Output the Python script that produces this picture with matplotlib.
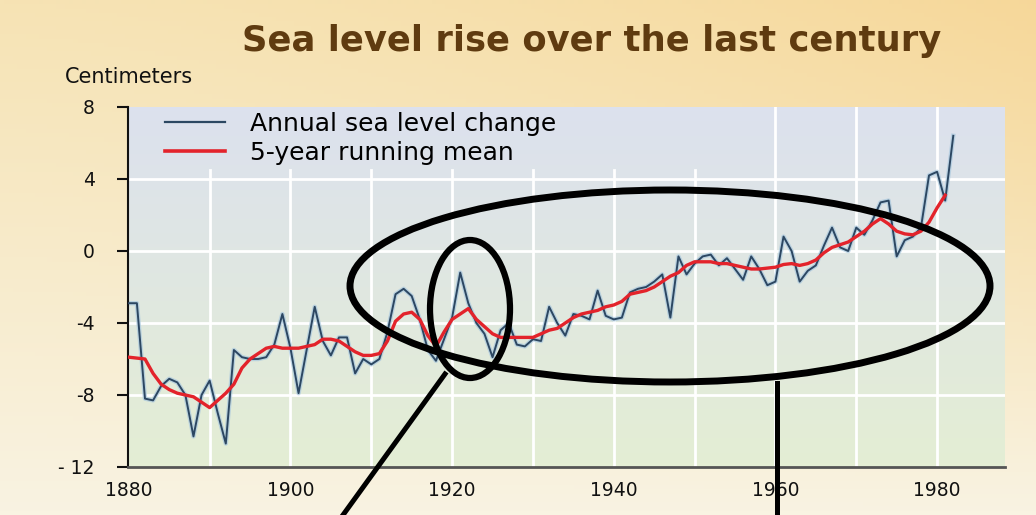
import numpy as np
import matplotlib
matplotlib.use("Agg")
import matplotlib.pyplot as plt
from matplotlib.patches import Ellipse

# ---------------- data ----------------
annual_years = list(range(1880, 1983))
annual_cm = [
    -2.9, -2.9, -8.2, -8.3, -7.5, -7.1, -7.3, -8.0, -10.3, -8.0,   # 1880-1889
    -7.2, -9.0, -10.7, -5.5, -5.9, -6.0, -6.0, -5.9, -5.2, -3.5,   # 1890-1899
    -5.4, -7.9, -5.5, -3.1, -5.0, -5.8, -4.8, -4.8, -6.8, -6.0,    # 1900-1909
    -6.3, -6.0, -4.5, -2.4, -2.1, -2.5, -3.8, -5.5, -6.1, -4.9,    # 1910-1919
    -3.7, -1.2, -2.9, -4.0, -4.6, -5.9, -4.4, -4.0, -5.2, -5.3,    # 1920-1929
    -4.9, -5.0, -3.1, -4.0, -4.7, -3.5, -3.6, -3.8, -2.2, -3.6,    # 1930-1939
    -3.8, -3.7, -2.3, -2.1, -2.0, -1.7, -1.3, -3.7, -0.3, -1.3,    # 1940-1949
    -0.7, -0.3, -0.2, -0.8, -0.4, -1.0, -1.6, -0.3, -1.0, -1.9,    # 1950-1959
    -1.7, 0.8, 0.0, -1.7, -1.1, -0.8, 0.3, 1.3, 0.2, 0.0,          # 1960-1969
    1.3, 0.9, 1.7, 2.7, 2.8, -0.3, 0.6, 0.8, 1.3, 4.2,             # 1970-1979
    4.4, 2.8, 6.4,                                                 # 1980-1982
]

mean_years = list(range(1880, 1982))
mean_cm = [
    -5.9, -5.95, -6.0, -6.8, -7.4, -7.7, -7.9, -8.0, -8.1, -8.4,   # 1880-1889
    -8.7, -8.3, -7.9, -7.4, -6.5, -6.0, -5.7, -5.4, -5.3, -5.4,    # 1890-1899
    -5.4, -5.4, -5.3, -5.2, -4.9, -4.9, -5.0, -5.3, -5.6, -5.8,    # 1900-1909
    -5.8, -5.7, -5.0, -3.9, -3.5, -3.4, -3.8, -4.7, -5.3, -4.5,    # 1910-1919
    -3.8, -3.5, -3.2, -3.8, -4.2, -4.6, -4.8, -4.8, -4.8, -4.8,    # 1920-1929
    -4.8, -4.6, -4.4, -4.3, -4.0, -3.7, -3.5, -3.4, -3.3, -3.1,    # 1930-1939
    -3.0, -2.8, -2.4, -2.3, -2.2, -2.0, -1.7, -1.4, -1.2, -0.8,    # 1940-1949
    -0.6, -0.6, -0.6, -0.7, -0.7, -0.8, -0.9, -1.0, -1.0, -0.95,   # 1950-1959
    -0.9, -0.75, -0.7, -0.8, -0.7, -0.5, -0.1, 0.2, 0.35, 0.5,     # 1960-1969
    0.8, 1.1, 1.5, 1.8, 1.5, 1.1, 0.95, 0.9, 1.1, 1.6,             # 1970-1979
    2.4, 3.1,                                                      # 1980-1981
]

x_tick_years = [1880, 1900, 1920, 1940, 1960, 1980]
x_grid_years = [1890, 1900, 1910, 1920, 1930, 1940, 1950, 1960, 1970, 1980]
y_ticks = [-12, -8, -4, 0, 4, 8]
y_tick_labels = ["- 12", "-8", "-4", "0", "4", "8"]
y_grid = [-8, -4, 0, 4]

title = "Sea level rise over the last century"
unit_label = "Centimeters"
legend_labels = ["Annual sea level change", "5-year running mean"]

# ---------------- figure ----------------
W, H = 1036, 515
fig = plt.figure(figsize=(W / 100, H / 100), dpi=100)

# figure background gradient (cream / light orange)
bg = fig.add_axes([0, 0, 1, 1], zorder=-10)
bg.axis("off")
ny, nx = 120, 240
t = np.linspace(0, 1, ny)[:, None, None]
s = np.linspace(0, 1, nx)[None, :, None]
top_c = np.array([246, 227, 180]) / 255
bot_c = np.array([249, 243, 226]) / 255
orange = np.array([246, 212, 145]) / 255
img = top_c * (1 - t) + bot_c * t
w = (s ** 1.5) * (1 - t) ** 1.3 * 0.75
img = img * (1 - w) + orange * w
bg.imshow(img, extent=[0, 1, 0, 1], aspect="auto", origin="upper")
bg.set_xlim(0, 1)
bg.set_ylim(0, 1)

rect = [128 / W, 48 / H, 877 / W, 360 / H]

# plot-area gradient (blue-grey top -> pale green bottom)
abg = fig.add_axes(rect, zorder=-5)
abg.axis("off")
tt = np.linspace(0, 1, 100)[:, None, None]
a_top = np.array([220, 225, 238]) / 255
a_bot = np.array([228, 238, 212]) / 255
aimg = a_top * (1 - tt) + a_bot * tt
aimg = np.repeat(aimg, 4, axis=1)
abg.imshow(aimg, extent=[0, 1, 0, 1], aspect="auto", origin="upper")
abg.set_xlim(0, 1)
abg.set_ylim(0, 1)

ax = fig.add_axes(rect, zorder=0)
ax.patch.set_alpha(0)
ax.set_xlim(1879.9, 1988.4)
ax.set_ylim(-12, 8)

legend_strip_bottom = 4.5   # vertical grid lines stop below the legend strip
legend_strip_right = 1955
for yv in y_grid:
    ax.axhline(yv, color="white", lw=2, zorder=1)
for xv in x_grid_years:
    top_frac = 1.0 if xv > legend_strip_right else (legend_strip_bottom + 12) / 20
    ax.axvline(xv, ymax=top_frac, color="white", lw=2, zorder=1)

ax.plot(annual_years, annual_cm, color="#a9c8de", lw=3.2, alpha=0.7, zorder=2)
ax.plot(annual_years, annual_cm, color="#2c4762", lw=1.4, zorder=3,
        label=legend_labels[0])
ax.plot(mean_years, mean_cm, color="#e3232b", lw=2.4, zorder=4,
        label=legend_labels[1])

ax.set_xticks(x_tick_years)
ax.set_xticklabels([str(y) for y in x_tick_years])
ax.set_yticks(y_ticks)
ax.set_yticklabels(y_tick_labels)
ax.tick_params(axis="x", length=0, pad=10, labelsize=13.5, colors="#111111")
ax.tick_params(axis="y", length=8, width=1.5, direction="out", pad=16,
               labelsize=13.5, colors="#111111")

for side in ["top", "right"]:
    ax.spines[side].set_visible(False)
ax.spines["left"].set_color("#111111")
ax.spines["left"].set_linewidth(1.5)
ax.spines["bottom"].set_color("#555555")
ax.spines["bottom"].set_linewidth(2)

leg = ax.legend(loc="upper left",
                bbox_to_anchor=((165 - 128) / 877, (467 - 112) / 360),
                borderaxespad=0, borderpad=0, fontsize=18, frameon=False,
                handlelength=2.4, handletextpad=1.0, labelspacing=0.2)
leg.set_zorder(5)
for line in leg.get_lines():
    line.set_linewidth(2.6 if line.get_color() == "#e3232b" else 1.6)

fig.text(592 / W, 1 - 41 / H, title, ha="center", va="center",
         fontsize=25.5, fontweight="bold", color="#5f3b10",
         family="DejaVu Sans")
fig.text(65 / W, 1 - 77 / H, unit_label, ha="left", va="center",
         fontsize=15, color="#111111")

# hand-drawn annotation overlay (ellipses and pointer lines)
ov = fig.add_axes([0, 0, 1, 1], zorder=20)
ov.set_xlim(0, W)
ov.set_ylim(H, 0)
ov.axis("off")
ov.patch.set_alpha(0)
ov.add_patch(Ellipse((670, 286), 640, 192, fill=False, lw=5, ec="black"))
ov.add_patch(Ellipse((470, 309), 80, 138, fill=False, lw=4.5, ec="black"))
ov.plot([445, 343], [374, 515], color="black", lw=3.6)
ov.plot([777, 777], [383, 515], color="black", lw=3.6)

fig.savefig("out.png", dpi=100)
